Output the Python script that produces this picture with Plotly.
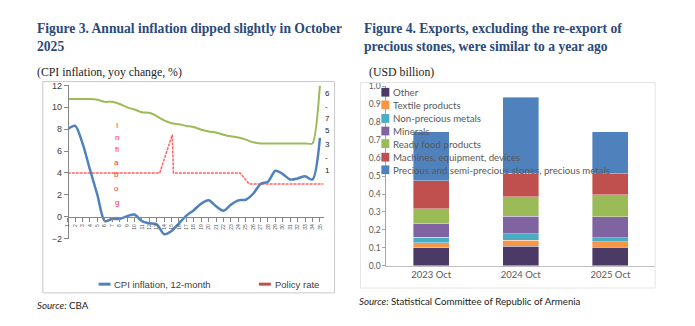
import plotly.graph_objects as go

W, H = 695, 326

# ---------------- Data: Figure 3 ----------------
month_labels = [str(i) for i in range(1, 36)]
month_idx = list(range(35))
cpi_inflation = [8.0, 8.3, 6.7, 4.3, 2.0, -0.4, -0.2, -0.2, 0.05, 0.2,
                 -0.4, -0.6, -0.7, -1.6, -1.3, -0.6, 0.1, 0.6, 1.2, 1.5,
                 0.95, 0.55, 1.1, 1.5, 1.55, 2.1, 3.0, 3.2, 4.2, 3.9,
                 3.4, 3.5, 3.7, 3.4, 7.2]
green_series = [10.75, 10.75, 10.75, 10.75, 10.7, 10.5, 10.5, 10.3, 10.0, 9.8,
                9.55, 9.5, 9.2, 8.8, 8.55, 8.45, 8.3, 8.2, 7.95, 7.8,
                7.7, 7.5, 7.35, 7.25, 7.05, 6.8, 6.7, 6.7, 6.7, 6.7,
                6.7, 6.7, 6.7, 6.7, 12.0]
policy_pos = [0, 12.4, 14.1, 14.25, 23.25, 24.45, 34.5]
policy_rate = [4, 4, 7.5, 4, 4, 3, 3]
right_labels = ["6", "-", "7", "5", "3", "-", "1"]
right_label_vals = [11.3, 10.1, 9.0, 7.9, 6.6, 5.4, 4.25]
target_letters = ["I", "n", "fl", "a", "b", "o", "g"]
target_letter_vals = [8.3, 7.2, 6.1, 5.0, 3.9, 2.6, 1.3]
target_pos = 6.6

# ---------------- Data: Figure 4 ----------------
years = ["2023 Oct", "2024 Oct", "2025 Oct"]
export_series = ["Other", "Textile products", "Non-precious metals", "Minerals",
                 "Ready food products", "Machines, equipment, devices",
                 "Precious and semi-precious stones, precious metals"]
export_values = {
    "Other": [0.100, 0.108, 0.103],
    "Textile products": [0.028, 0.034, 0.030],
    "Non-precious metals": [0.032, 0.036, 0.024],
    "Minerals": [0.073, 0.099, 0.117],
    "Ready food products": [0.086, 0.108, 0.121],
    "Machines, equipment, devices": [0.155, 0.132, 0.117],
    "Precious and semi-precious stones, precious metals": [0.272, 0.423, 0.234],
}
export_colors = ["#4B3A66", "#F79646", "#4BACC6", "#8064A2", "#9BBB59", "#C0504D", "#4F81BD"]


def px(x):
    return x / W


def py(y):
    return 1 - y / H


fig = go.Figure()

# Left chart traces
fig.add_trace(go.Scatter(x=month_idx, y=green_series, mode="lines",
                         line=dict(color="#9BBB59", width=2, shape="spline", smoothing=0.6),
                         showlegend=False, xaxis="x", yaxis="y"))
fig.add_trace(go.Scatter(x=policy_pos, y=policy_rate, mode="lines",
                         line=dict(color="rgba(255,70,70,0.85)", width=1.5, dash="3px,1px"),
                         showlegend=False, xaxis="x", yaxis="y"))
fig.add_trace(go.Scatter(x=month_idx, y=cpi_inflation, mode="lines",
                         line=dict(color="#4F81BD", width=2.5, shape="spline", smoothing=0.8),
                         showlegend=False, xaxis="x", yaxis="y"))

# Right chart traces
for name, col in zip(export_series, export_colors):
    fig.add_trace(go.Bar(x=years, y=export_values[name], name=name,
                         marker=dict(color=col, line=dict(color="rgba(255,255,255,0.55)", width=0.7)),
                         showlegend=False, xaxis="x2", yaxis="y2"))

shapes = []
annotations = []

# frames
shapes.append(dict(type="rect", xref="paper", yref="paper", x0=px(40), x1=px(333), y0=py(297), y1=py(79),
                   line=dict(color="#C8C8C8", width=1)))
shapes.append(dict(type="rect", xref="paper", yref="paper", x0=px(359), x1=px(655), y0=py(292), y1=py(80),
                   line=dict(color="#E4E4E4", width=1)))

# Titles
title_font = dict(family="Liberation Serif", size=13.6, color="#2B4A7A")
annotations.append(dict(xref="paper", yref="paper", x=px(32), y=py(34), xanchor="left", yanchor="middle",
                        text="<b>Figure 3. Annual inflation dipped slightly in October<br>2025</b>",
                        showarrow=False, align="left", font=title_font))
annotations.append(dict(xref="paper", yref="paper", x=px(361), y=py(34), xanchor="left", yanchor="middle",
                        text="<b>Figure 4. Exports, excluding the re-export of<br>precious stones, were similar to a year ago</b>",
                        showarrow=False, align="left", font=title_font))
sub_font = dict(family="Liberation Serif", size=11.8, color="#222222")
annotations.append(dict(xref="paper", yref="paper", x=px(32), y=py(69), xanchor="left", yanchor="middle",
                        text="(CPI inflation, yoy change, %)", showarrow=False, font=sub_font))
annotations.append(dict(xref="paper", yref="paper", x=px(366), y=py(69), xanchor="left", yanchor="middle",
                        text="(USD billion)", showarrow=False, font=sub_font))

# Sources
src_font = dict(family="Lato", size=9.7, color="#222222")
annotations.append(dict(xref="paper", yref="paper", x=px(32), y=py(309), xanchor="left", yanchor="middle",
                        text="<i>Source:</i> CBA", showarrow=False, font=src_font))
annotations.append(dict(xref="paper", yref="paper", x=px(356), y=py(305), xanchor="left", yanchor="middle",
                        text="<i>Source:</i> Statistical Committee of Republic of Armenia", showarrow=False, font=src_font))

# Left legend (manual)
leg_font = dict(family="Liberation Sans", size=9.5, color="#404040")
shapes.append(dict(type="line", xref="paper", yref="paper", x0=px(96), x1=px(108), y0=py(288), y1=py(288),
                   line=dict(color="#4F81BD", width=3)))
annotations.append(dict(xref="paper", yref="paper", x=px(109), y=py(288), xanchor="left", yanchor="middle",
                        text="CPI inflation, 12-month", showarrow=False, font=leg_font))
shapes.append(dict(type="line", xref="paper", yref="paper", x0=px(257), x1=px(269), y0=py(288), y1=py(288),
                   line=dict(color="#C0504D", width=3)))
annotations.append(dict(xref="paper", yref="paper", x=px(271), y=py(288), xanchor="left", yanchor="middle",
                        text="Policy rate", showarrow=False, font=leg_font))

# Inflation target letters
for t, v in zip(target_letters, target_letter_vals):
    annotations.append(dict(xref="x", yref="y", x=target_pos, y=v, text=t, showarrow=False,
                            font=dict(family="Liberation Sans", size=8, color="#FF3030")))
# Right-edge labels
for t, v in zip(right_labels, right_label_vals):
    annotations.append(dict(xref="x", yref="y", x=34.45, y=v, text=t, showarrow=False, xanchor="left",
                            font=dict(family="Liberation Sans", size=8, color="#222222")))

# Right legend (manual)
leg_y = [90, 103, 117, 130, 143, 157, 170]
for name, col, yy in zip(export_series, export_colors, leg_y):
    shapes.append(dict(type="rect", xref="paper", yref="paper", x0=px(380), x1=px(388),
                       y0=py(yy + 4.5), y1=py(yy - 4.5), fillcolor=col, line=dict(width=0), layer="above"))
    annotations.append(dict(xref="paper", yref="paper", x=px(390), y=py(yy), xanchor="left", yanchor="middle",
                            text=name, showarrow=False,
                            font=dict(family="Lato", size=9.7, color="#595959")))

fig.update_layout(
    width=W, height=H,
    margin=dict(l=0, r=0, t=0, b=0),
    paper_bgcolor="white", plot_bgcolor="rgba(0,0,0,0)",
    showlegend=False,
    barmode="stack", bargap=0.6,
    shapes=shapes, annotations=annotations,
    xaxis=dict(domain=[px(65), px(322)], range=[0, 34.5], anchor="free", position=py(219),
               tickvals=month_idx, ticktext=month_labels, tickangle=-90,
               tickfont=dict(family="Liberation Sans", size=5, color="#505050"),
               ticks="outside", ticklen=4, tickcolor="#868686",
               showline=True, linecolor="#868686", linewidth=1,
               showgrid=False, zeroline=False, fixedrange=True),
    yaxis=dict(domain=[py(241), py(83)], range=[-2, 12], dtick=2, anchor="free", position=px(65),
               tickfont=dict(family="Liberation Sans", size=9, color="#404040"),
               ticks="outside", ticklen=4, tickcolor="#868686",
               showline=True, linecolor="#868686", linewidth=1,
               showgrid=False, zeroline=False),
    xaxis2=dict(domain=[px(385), px(655)], anchor="y2",
                tickfont=dict(family="Lato", size=9.5, color="#595959"),
                ticks="", showline=True, linecolor="#BFBFBF", linewidth=1,
                showgrid=False, zeroline=False),
    yaxis2=dict(domain=[py(269), py(84)], range=[0, 1.0], dtick=0.1, tickformat=".1f", anchor="x2",
                tickfont=dict(family="Lato", size=8.5, color="#595959"),
                ticks="outside", ticklen=3, tickcolor="#A6A6A6",
                showline=True, linecolor="#A6A6A6", linewidth=1,
                showgrid=False, zeroline=False),
)

fig.write_html("out.html")
